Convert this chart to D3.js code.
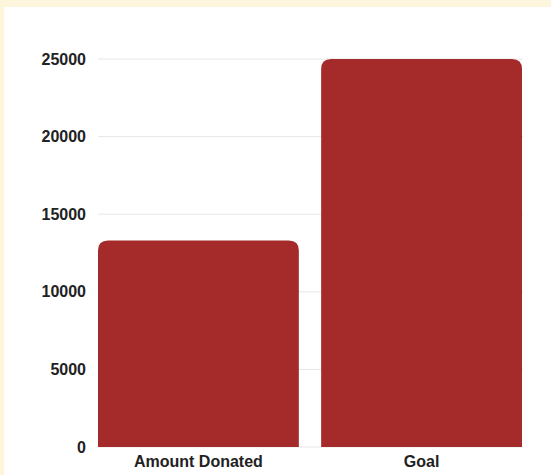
<!DOCTYPE html>
<html>
<head>
<meta charset="utf-8">
<script src="https://cdn.jsdelivr.net/npm/d3@7"></script>
<style>
    body { margin: 0; background: #fdf5dc; }
    svg { display: block; }
    text { font-family: "Liberation Sans", Arial, sans-serif; font-weight: bold; fill: #222; }
</style>
</head>
<body>
<svg id="chart"></svg>
<script>
const categories = ['Amount Donated', 'Goal'];
const values = [13300, 25000];
const yTicks = [0, 5000, 10000, 15000, 20000, 25000];

const width = 551, height = 475;
const margin = { top: 59, right: 29, bottom: 28, left: 98 };

const svg = d3.select('#chart')
    .attr('width', width)
    .attr('height', height);

// white panel on the cream page
svg.append('rect')
    .attr('x', 4).attr('y', 7)
    .attr('width', width - 4).attr('height', height - 7)
    .attr('fill', '#fff');

const x = d3.scaleBand()
    .domain(categories)
    .range([margin.left, width - margin.right])
    .paddingInner(0.1)
    .paddingOuter(0);

const y = d3.scaleLinear()
    .domain([0, 25000])
    .range([height - margin.bottom, margin.top]);

// gridlines
svg.append('g')
    .selectAll('line')
    .data(yTicks)
    .enter().append('line')
    .attr('x1', margin.left)
    .attr('x2', width - margin.right + 1)
    .attr('y1', d => y(d))
    .attr('y2', d => y(d))
    .attr('stroke', '#e6e6e6')
    .attr('stroke-width', 1);

// bars, rounded on top only
const r = 10;
svg.append('g')
    .selectAll('path')
    .data(values)
    .enter().append('path')
    .attr('fill', '#a52a2a')
    .attr('d', (d, i) => {
        const x0 = x(categories[i]), x1 = x0 + x.bandwidth();
        const y0 = y(0), y1 = y(d);
        return `M${x0},${y0} L${x0},${y1 + r} Q${x0},${y1} ${x0 + r},${y1}`
            + ` L${x1 - r},${y1} Q${x1},${y1} ${x1},${y1 + r} L${x1},${y0} Z`;
    });

// y tick labels
svg.append('g')
    .selectAll('text')
    .data(yTicks)
    .enter().append('text')
    .attr('x', 86)
    .attr('y', d => y(d))
    .attr('dy', '0.35em')
    .attr('text-anchor', 'end')
    .attr('font-size', 16)
    .text(d => d);

// category labels
svg.append('g')
    .selectAll('text')
    .data(categories)
    .enter().append('text')
    .attr('x', d => x(d) + x.bandwidth() / 2)
    .attr('y', height - 8)
    .attr('text-anchor', 'middle')
    .attr('font-size', 16)
    .text(d => d);
</script>
</body>
</html>
